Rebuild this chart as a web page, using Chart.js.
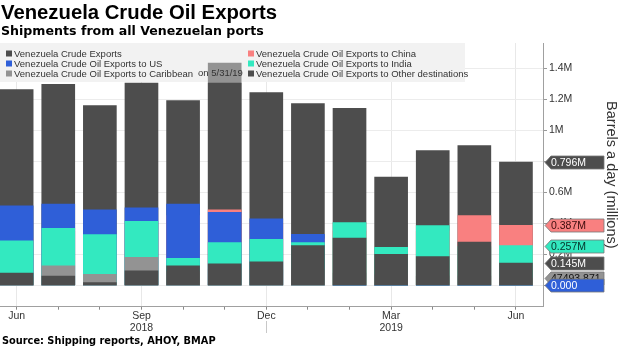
<!DOCTYPE html>
<html>
<head>
<meta charset="utf-8">
<script src="https://cdn.jsdelivr.net/npm/chart.js@4.4.1/dist/chart.umd.min.js"></script>
<style>
  html, body { margin: 0; padding: 0; background: #fff; }
  #wrap { position: relative; width: 620px; height: 348px; }
</style>
</head>
<body>
<div id="wrap"><canvas id="chartCanvas" width="620" height="348"></canvas></div>
<script>
// Months, Jun 2018 .. Jun 2019
const months = ['Jun', 'Jul', 'Aug', 'Sep', 'Oct', 'Nov', 'Dec', 'Jan', 'Feb', 'Mar', 'Apr', 'May', 'Jun'];
const yearLabels = ['', '', '', '2018', '', '', '', '', '', '2019', '', '', ''];

// Barrels a day, millions
const totalExports = [1.262, 1.297, 1.159, 1.304, 1.192, 1.304, 1.243, 1.172, 1.142, 0.698, 0.869, 0.901, 0.796];
const toChina      = [0.300, 0.350, 0.300, 0.400, 0.450, 0.487, 0.400, 0.300, 0.350, 0.200, 0.350, 0.450, 0.387];
const toUS         = [0.513, 0.525, 0.487, 0.500, 0.525, 0.472, 0.429, 0.330, 0, 0, 0, 0, 0];
const toIndia      = [0.287, 0.369, 0.328, 0.414, 0.175, 0.276, 0.298, 0.276, 0.405, 0.246, 0.386, 0.250, 0.257];
const toCaribbean  = [0.050, 0.126, 0.072, 0.182, 0.090, 0.100, 0.100, 0.100, 0.080, 0.070, 0.060, 0.060, 0.047493871];
const toOther      = [0.079, 0.061, 0.018, 0.095, 0.126, 0.139, 0.153, 0.257, 0.306, 0.201, 0.186, 0.279, 0.145];
// gray block showing above the Nov bar
const caribbeanPeak = [null, null, null, null, null, 1.433, null, null, null, null, null, null, null];

const yTicks = [0, 0.2, 0.4, 0.6, 0.8, 1.0, 1.2, 1.4];

const DARK = '#4d4d4d';
const BLUE = '#2f5fd8';
const TEAL = '#33e9c0';
const PINK = '#f98080';
const GRAY = '#939393';

const series = [
  { name: 'Venezuela Crude Exports', data: totalExports, color: DARK, order: 6, text: '#fff' },
  { name: 'Venezuela Crude Oil Exports to China', data: toChina, color: PINK, order: 5, text: '#3a0c0c' },
  { name: 'Venezuela Crude Oil Exports to US', data: toUS, color: BLUE, order: 4, text: '#fff' },
  { name: 'Venezuela Crude Oil Exports to India', data: toIndia, color: TEAL, order: 3, text: '#06332a' },
  { name: 'Venezuela Crude Oil Exports to Caribbean', data: toCaribbean, color: GRAY, order: 2, text: '#111' },
  { name: 'Venezuela Crude Oil Exports to Other destinations', data: toOther, color: DARK, order: 1, text: '#fff' }
];

const FONT = '"Liberation Sans", Arial, sans-serif';

function fmtLast(v) {
  if (v === 0) return '0.000';
  if (v < 0.1) return (v * 1e6).toFixed(3);
  return v.toFixed(3) + 'M';
}

const datasets = series.map(s => ({
  label: s.name,
  data: s.data.map((v, i) => ({ x: i, y: v })),
  backgroundColor: s.color,
  order: s.order,
  grouped: false,
  barThickness: 33,
  borderWidth: 0
}));
datasets.push({
  label: 'peak',
  data: caribbeanPeak.map((v, i) => ({ x: i, y: v })),
  backgroundColor: GRAY,
  order: 7,
  grouped: false,
  barThickness: 33,
  borderWidth: 0
});

const decor = {
  id: 'decor',
  beforeDatasetsDraw(chart) {
    const c = chart.ctx;
    c.save();
    c.fillStyle = '#f2f2f2';
    c.fillRect(0, 43, 465, 39);
    c.restore();
  },
  afterDatasetsDraw(chart) {
    const c = chart.ctx;
    c.save();
    c.font = '9.5px ' + FONT;
    c.textBaseline = 'middle';
    const cols = [[0, 2, 4], [1, 3, 5]];
    const colX = [6, 248];
    cols.forEach((col, ci) => {
      col.forEach((si, ri) => {
        const y = 53.5 + ri * 10;
        c.fillStyle = series[si].color;
        c.fillRect(colX[ci], y - 3, 6, 6);
        c.fillStyle = '#333';
        c.fillText(series[si].name, colX[ci] + 8, y + 0.5);
      });
    });
    c.fillText('on 5/31/19', 198, 73.8);
    c.restore();
  },
  afterDraw(chart) {
    const c = chart.ctx;
    const ys = chart.scales.y;
    const xs = chart.scales.x;
    c.save();
    // titles
    c.fillStyle = '#000';
    c.textBaseline = 'alphabetic';
    c.font = 'bold 20.3px ' + FONT;
    c.fillText('Venezuela Crude Oil Exports', 1, 18.5);
    c.font = 'bold 12.6px "DejaVu Sans", ' + FONT;
    c.fillText('Shipments from all Venezuelan ports', 1, 35);
    c.font = 'bold 9.8px "DejaVu Sans", ' + FONT;
    c.fillText('Source: Shipping reports, AHOY, BMAP', 2, 344);

    // year separator below Dec
    const xd = Math.round(xs.getPixelForValue(6)) + 0.5;
    c.strokeStyle = '#c8c8c8';
    c.lineWidth = 1;
    c.beginPath();
    c.moveTo(xd, 321);
    c.lineTo(xd, 333);
    c.stroke();

    // last value tags
    const tagOrder = [0, 1, 3, 5, 4, 2];
    c.font = '10.5px ' + FONT;
    c.textBaseline = 'middle';
    tagOrder.forEach(si => {
      const s = series[si];
      const v = s.data[s.data.length - 1];
      const y = Math.round(ys.getPixelForValue(v)) + 0.5;
      const x0 = 545, x1 = 551, x2 = 604, h = 6.5;
      c.beginPath();
      c.moveTo(x0, y);
      c.lineTo(x1, y - h);
      c.lineTo(x2, y - h);
      c.lineTo(x2, y + h);
      c.lineTo(x1, y + h);
      c.closePath();
      c.fillStyle = s.color;
      c.fill();
      c.strokeStyle = 'rgba(120,120,120,0.8)';
      c.stroke();
      c.fillStyle = s.text;
      c.fillText(fmtLast(v), 551, y + 0.5);
    });
    c.restore();
  }
};

const ctx = document.getElementById('chartCanvas').getContext('2d');
new Chart(ctx, {
  type: 'bar',
  data: { datasets: datasets },
  options: {
    responsive: false,
    animation: false,
    layout: { padding: { top: 43, left: 0, right: 0, bottom: 0 } },
    plugins: {
      legend: { display: false },
      tooltip: { enabled: false }
    },
    scales: {
      x: {
        type: 'linear',
        offset: false,
        min: -0.4,
        max: 12.65,
        afterBuildTicks: scale => { scale.ticks = months.map((m, i) => ({ value: i })); },
        afterFit: scale => { scale.height = 41.3; },
        ticks: {
          autoSkip: false,
          maxRotation: 0,
          padding: 0,
          color: '#333',
          font: { family: FONT, size: 10.5, lineHeight: 1.2 },
          callback: v => {
            if (v % 3 !== 0) return '';
            return yearLabels[v] ? [months[v], yearLabels[v]] : months[v];
          }
        },
        grid: {
          offset: false,
          color: c => (c.tick && c.tick.value % 3 === 0) ? '#e8e8e8' : 'rgba(0,0,0,0)',
          tickColor: '#888',
          tickLength: 3,
          drawTicks: true
        },
        border: { color: '#a0a0a0' }
      },
      y: {
        position: 'right',
        min: -0.137,
        max: 1.563,
        afterBuildTicks: scale => { scale.ticks = yTicks.map(v => ({ value: v })); },
        afterFit: scale => { scale.width = 77; },
        ticks: {
          padding: 2,
          color: '#333',
          font: { family: FONT, size: 10.5 },
          callback: v => (Math.round(v * 10) / 10) + 'M'
        },
        grid: {
          color: '#ececec',
          tickColor: '#999',
          tickLength: 4
        },
        border: { color: '#a0a0a0' },
        title: {
          display: true,
          text: 'Barrels a day (millions)',
          color: '#333',
          font: { family: FONT, size: 14.5 },
          padding: { top: 0, bottom: 0 }
        }
      }
    }
  },
  plugins: [decor]
});
</script>
</body>
</html>
